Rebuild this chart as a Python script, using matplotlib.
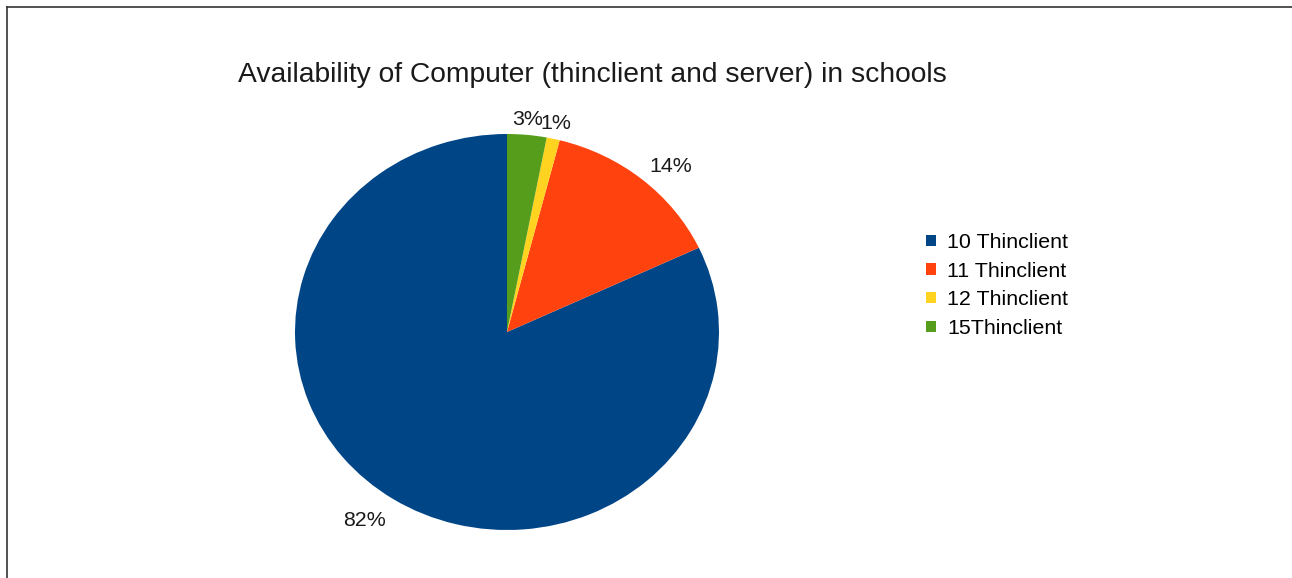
import matplotlib
matplotlib.use("Agg")
import numpy as np
import matplotlib.pyplot as plt
from matplotlib.patches import Patch
from matplotlib.lines import Line2D

plt.rcParams['font.family'] = ['Liberation Sans', 'DejaVu Sans']

title = "Availability of Computer (thinclient and server) in schools"
categories = ["10 Thinclient", "11 Thinclient", "12 Thinclient", "15Thinclient"]
shares = [82, 14, 1, 3]
colors = ["#004586", "#ff420e", "#ffd320", "#579d1c"]

W, H = 1292, 578
fig = plt.figure(figsize=(W / 100, H / 100), dpi=100)

# frame lines along top and left edges
fig.add_artist(Line2D([7 / W, 1.0], [1 - 7 / H, 1 - 7 / H], color="#333333", lw=1.2))
fig.add_artist(Line2D([7 / W, 7 / W], [0, 1 - 7 / H], color="#333333", lw=1.2))

# pie axes (slightly wider than tall)
cx, cy, rx, ry = 507, 332, 212, 198
ax = fig.add_axes([(cx - rx) / W, (H - cy - ry) / H, 2 * rx / W, 2 * ry / H])
wedges, texts, autotexts = ax.pie(
    shares, colors=colors, startangle=90, counterclock=True,
    autopct=lambda p: f"{p:.0f}%", pctdistance=1.06,
    wedgeprops=dict(linewidth=0), textprops=dict(fontsize=15.4, color="#1a1a1a"),
)
ax.set_aspect("auto")
ax.set_xlim(-1, 1)
ax.set_ylim(-1, 1)
ax.axis("off")

# anchor each percentage label by its outer corner, depending on wedge direction
for w, t in zip(wedges, autotexts):
    ang = np.deg2rad((w.theta1 + w.theta2) / 2)
    c, s = np.cos(ang), np.sin(ang)
    r = 1.05 if s > 0 else 1.07
    t.set_position((r * c, r * s))
    t.set_ha("center" if abs(c) < 0.3 else ("left" if c > 0 else "right"))
    t.set_va("center" if abs(s) < 0.3 else ("baseline" if s > 0 else "top"))

fig.text(238 / W, 1 - 74.5 / H, title, fontsize=20.3, color="#1a1a1a", va="center", ha="left")

handles = [Patch(facecolor=c, edgecolor="none") for c in colors]
fig.legend(handles, categories, loc="upper left", bbox_to_anchor=(926 / W, 1 - 233 / H),
           frameon=False, fontsize=15.4, handlelength=0.45, handleheight=0.45,
           handletextpad=0.55, labelspacing=0.45, borderaxespad=0, borderpad=0)

fig.savefig("out.png", dpi=100, facecolor="white")
